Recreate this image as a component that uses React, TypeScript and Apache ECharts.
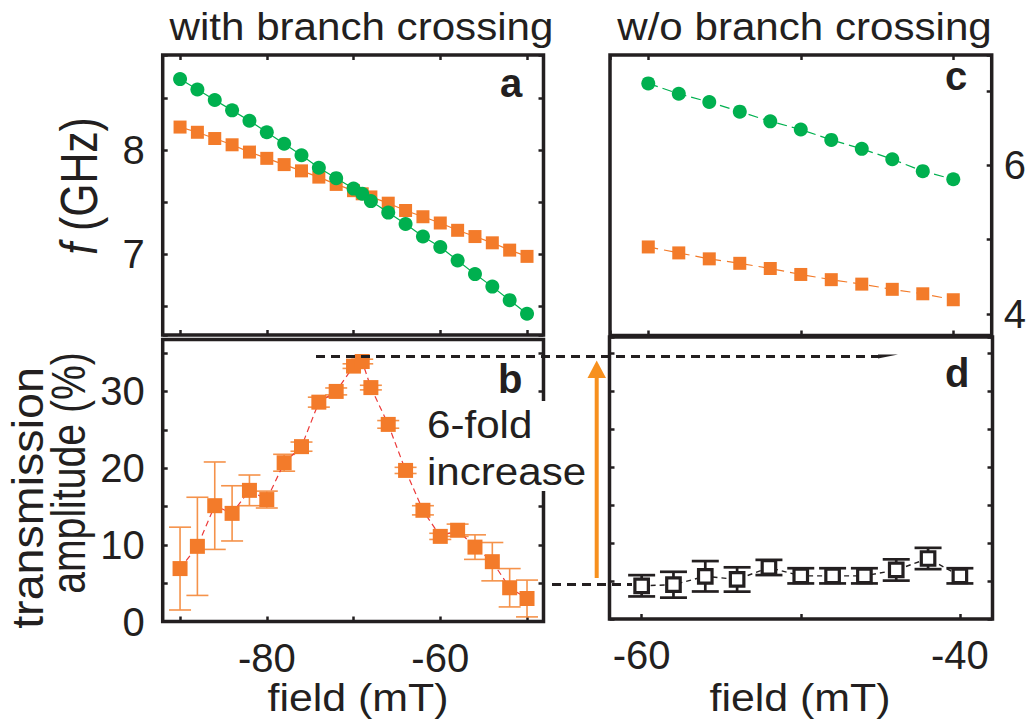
import React, { useEffect, useRef } from 'react';
import * as echarts from 'echarts';

// ---- data ----
const fieldA = [-90, -88, -86, -84, -82, -80, -78, -76, -74, -72, -70, -69, -68, -66, -64, -62, -60, -58, -56, -54, -52, -50];
const upperBranchA = [8.68, 8.58, 8.48, 8.38, 8.28, 8.17, 8.06, 7.95, 7.83, 7.73, 7.63, 7.58, 7.51, 7.40, 7.29, 7.17, 7.07, 6.94, 6.81, 6.69, 6.56, 6.43];
const lowerBranchA = [8.22, 8.17, 8.11, 8.05, 7.98, 7.92, 7.86, 7.80, 7.74, 7.67, 7.61, 7.58, 7.55, 7.49, 7.42, 7.36, 7.30, 7.23, 7.17, 7.11, 7.04, 6.98];
const transB = [6.9, 9.8, 15.1, 14.1, 17.1, 15.9, 20.7, 22.8, 28.6, 30.0, 33.3, 33.9, 30.5, 25.7, 19.7, 14.5, 11.1, 11.9, 9.7, 7.8, 4.4, 3.0];
const errB = [5.4, 6.4, 5.7, 3.6, 2.0, 1.1, 1.1, 0.6, 0.65, 0.45, 0.3, 0.3, 0.3, 0.5, 0.4, 0.6, 0.4, 0.8, 1.6, 2.5, 2.5, 2.4];

const fieldC = [-60, -58, -56, -54, -52, -50, -48, -46, -44, -42, -40];
const upperBranchC = [7.10, 6.96, 6.85, 6.72, 6.59, 6.48, 6.34, 6.22, 6.08, 5.92, 5.81];
const lowerBranchC = [4.90, 4.82, 4.74, 4.68, 4.61, 4.53, 4.46, 4.40, 4.33, 4.27, 4.19];
const transD = [4.37, 4.51, 5.62, 5.2, 6.78, 5.68, 5.68, 5.68, 6.45, 7.96, 5.68];
const errD = [1.4, 1.7, 2.0, 1.6, 1.0, 1.0, 1.0, 1.0, 1.4, 1.4, 1.0];

const FONT = '"Liberation Sans", Arial, Helvetica, sans-serif';
const INK = '#231f20';
const GREEN = '#00b04f';
const ORANGE = '#f37b2a';
const BAR_ORANGE = '#f5924a';
const RED = '#ec3a3a';

const tick = { show: true, inside: true, length: 5, lineStyle: { color: INK, width: 2.5 } };

function xAx(gridIndex: number, min: number, max: number, position: string, fmt?: (v: number) => string) {
  return {
    type: 'value', gridIndex, min, max, position,
    minInterval: 10, maxInterval: 10,
    axisLine: { show: false }, splitLine: { show: false },
    axisTick: tick,
    axisLabel: fmt
      ? { show: true, fontSize: 40, color: INK, fontFamily: FONT, margin: 16, formatter: fmt }
      : { show: false },
  };
}
function yAx(gridIndex: number, min: number, max: number, position: string, step: number, fmt?: (v: number) => string, margin = 16) {
  return {
    type: 'value', gridIndex, min, max, position,
    minInterval: step, maxInterval: step,
    axisLine: { show: false }, splitLine: { show: false },
    axisTick: tick,
    axisLabel: fmt
      ? { show: true, fontSize: 40, color: INK, fontFamily: FONT, margin, formatter: fmt }
      : { show: false },
  };
}

const isMult = (v: number, m: number) => Math.abs(v / m - Math.round(v / m)) < 1e-6;

function errorSeries(xi: number, yi: number, xs: number[], ys: number[], es: number[], color: string, lw: number, cap: number) {
  return {
    type: 'custom', xAxisIndex: xi, yAxisIndex: yi, z: 2, silent: true,
    encode: { x: 0, y: [1, 2] },
    data: xs.map((x, i) => [x, ys[i] - es[i], ys[i] + es[i]]),
    renderItem: (_p: any, api: any) => {
      const lo = api.coord([api.value(0), api.value(1)]);
      const hi = api.coord([api.value(0), api.value(2)]);
      const h = cap / 2;
      const st = { stroke: color, lineWidth: lw };
      return {
        type: 'group',
        children: [
          { type: 'line', shape: { x1: lo[0], y1: lo[1], x2: hi[0], y2: hi[1] }, style: st },
          { type: 'line', shape: { x1: lo[0] - h, y1: lo[1], x2: lo[0] + h, y2: lo[1] }, style: st },
          { type: 'line', shape: { x1: hi[0] - h, y1: hi[1], x2: hi[0] + h, y2: hi[1] }, style: st },
        ],
      };
    },
  };
}

function txt(text: string, x: number, y: number, opts: any = {}) {
  const align = opts.align || 'left';
  return {
    type: 'text', x, y, z: 110,
    rotation: opts.rotation || 0,
    scaleX: opts.scaleX || 1,
    scaleY: opts.scaleY || 1,
    style: {
      text,
      x: 0, y: 0,
      fill: INK,
      fontSize: opts.fontSize || 39,
      fontFamily: FONT,
      fontWeight: opts.bold ? 'bold' : 'normal',
      align, textAlign: align,
      verticalAlign: 'middle', textVerticalAlign: 'middle',
      rich: opts.rich,
    },
  };
}

export default function App() {
  const ref = useRef<HTMLDivElement>(null);
  useEffect(() => {
    const chart = echarts.init(ref.current!, null, { renderer: 'svg' });
    const gridStyle = { show: true, borderColor: INK, borderWidth: 3.5, backgroundColor: 'transparent' };
    const option: any = {
      animation: false,
      backgroundColor: '#fff',
      textStyle: { fontFamily: FONT },
      grid: [
        { left: 162.7, top: 55, width: 380.8, height: 280, ...gridStyle },
        { left: 162.7, top: 339.5, width: 380.8, height: 282, ...gridStyle },
        { left: 610, top: 55, width: 381.7, height: 280.5, ...gridStyle },
        { left: 609.5, top: 337, width: 383, height: 282, ...gridStyle },
      ],
      xAxis: [
        xAx(0, -92, -48.1, 'bottom'),
        xAx(0, -92, -48.1, 'top'),
        xAx(1, -92, -48.1, 'bottom', (v) => (isMult(v, 20) ? String(v) : '')),
        xAx(2, -62.51, -37.48, 'bottom'),
        xAx(2, -62.51, -37.48, 'top'),
        xAx(3, -62.02, -37.95, 'bottom', (v) => (isMult(v, 20) ? String(v) : '')),
      ],
      yAxis: [
        yAx(0, 6.226, 8.911, 'left', 0.5, (v) => (isMult(v, 1) ? String(Math.round(v)) : ''), 18),
        yAx(0, 6.226, 8.911, 'right', 0.5),
        yAx(1, 0, 36.77, 'left', 5, (v) => (isMult(v, 10) ? String(Math.round(v)) : ''), 18),
        yAx(1, 0, 36.77, 'right', 5),
        yAx(2, 3.709, 7.482, 'right', 1, (v) => (isMult(v, 2) ? String(Math.round(v)) : ''), 12),
        yAx(3, 0, 37.1, 'left', 5),
        yAx(3, 0, 37.1, 'right', 5),
      ],
      series: [
        {
          type: 'line', xAxisIndex: 0, yAxisIndex: 0, z: 3,
          data: fieldA.map((x, i) => [x, lowerBranchA[i]]),
          symbol: 'rect', symbolSize: 13, itemStyle: { color: ORANGE },
          lineStyle: { color: ORANGE, width: 1.2 },
        },
        {
          type: 'line', xAxisIndex: 0, yAxisIndex: 0, z: 4,
          data: fieldA.map((x, i) => [x, upperBranchA[i]]),
          symbol: 'circle', symbolSize: 14, itemStyle: { color: GREEN },
          lineStyle: { color: GREEN, width: 1.2 },
        },
        errorSeries(2, 2, fieldA, transB, errB, BAR_ORANGE, 1.6, 22),
        {
          type: 'line', xAxisIndex: 2, yAxisIndex: 2, z: 3,
          data: fieldA.map((x, i) => [x, transB[i]]),
          symbol: 'rect', symbolSize: 15, itemStyle: { color: ORANGE },
          lineStyle: { color: RED, width: 1.2, type: [6, 4] },
        },
        {
          type: 'line', xAxisIndex: 3, yAxisIndex: 4, z: 3,
          data: fieldC.map((x, i) => [x, upperBranchC[i]]),
          symbol: 'circle', symbolSize: 14, itemStyle: { color: GREEN },
          lineStyle: { color: GREEN, width: 1.2, type: [10, 5] },
        },
        {
          type: 'line', xAxisIndex: 3, yAxisIndex: 4, z: 3,
          data: fieldC.map((x, i) => [x, lowerBranchC[i]]),
          symbol: 'rect', symbolSize: 13, itemStyle: { color: ORANGE },
          lineStyle: { color: ORANGE, width: 1.2, type: [10, 6] },
        },
        errorSeries(5, 5, fieldC, transD, errD, INK, 2.7, 27),
        {
          type: 'line', xAxisIndex: 5, yAxisIndex: 5, z: 3,
          data: fieldC.map((x, i) => [x, transD[i]]),
          symbol: 'rect', symbolSize: 13.5,
          itemStyle: { color: '#fff', borderColor: INK, borderWidth: 3.2 },
          lineStyle: { color: INK, width: 1.4, type: [5, 4] },
        },
      ],
      graphic: [
        // white box behind annotation text
        { type: 'rect', z: 100, shape: { x: 424, y: 401, width: 166, height: 90 }, style: { fill: '#fff' } },
        txt('6-fold', 427, 424.5, { scaleX: 1.08 }),
        txt('increase', 427, 471.5, { scaleX: 1.08 }),
        // dashed guide lines
        { type: 'line', z: 105, shape: { x1: 316, y1: 356.5, x2: 882, y2: 356.5 }, style: { stroke: INK, lineWidth: 3, lineDash: [9, 6] } },
        { type: 'polygon', z: 105, shape: { points: [[878, 354.5], [898, 354.5], [878, 358.5]] }, style: { fill: INK } },
        { type: 'line', z: 105, shape: { x1: 552, y1: 584.5, x2: 632, y2: 584.5 }, style: { stroke: INK, lineWidth: 3, lineDash: [9, 6] } },
        // orange arrow
        { type: 'line', z: 106, shape: { x1: 596.7, y1: 578, x2: 596.7, y2: 376 }, style: { stroke: '#f7901e', lineWidth: 4 } },
        { type: 'polygon', z: 106, shape: { points: [[596.7, 360.5], [587.5, 378], [606, 378]] }, style: { fill: '#f7901e' } },
        // titles
        txt('with branch crossing', 361.5, 26.5, { align: 'center', scaleX: 1.08 }),
        txt('w/o branch crossing', 804.5, 26.5, { align: 'center', scaleX: 1.08 }),
        txt('field (mT)', 358, 698, { align: 'center', scaleX: 1.1 }),
        txt('field (mT)', 800, 698, { align: 'center', scaleX: 1.1 }),
        // axis names (rotated)
        txt('{i|f} (GHz)', 79, 186, {
          align: 'center', rotation: Math.PI / 2, fontSize: 45, scaleX: 0.95, scaleY: 1.16,
          rich: { i: { fontStyle: 'italic', fontSize: 45, fontFamily: FONT, fill: INK } },
        }),
        txt('transmission', 27.5, 498, { align: 'center', rotation: Math.PI / 2, fontSize: 44, scaleX: 1.06, scaleY: 1.0 }),
        txt('amplitude (%)', 68, 473, { align: 'center', rotation: Math.PI / 2, fontSize: 44, scaleX: 0.89, scaleY: 1.1 }),
        // panel letters
        txt('a', 500, 83, { bold: true, fontSize: 40 }),
        txt('b', 498, 379, { bold: true, fontSize: 40 }),
        txt('c', 945, 76, { bold: true, fontSize: 40 }),
        txt('d', 945, 373, { bold: true, fontSize: 40 }),
      ],
    };
    chart.setOption(option);
    return () => chart.dispose();
  }, []);
  return (
    <div
      ref={ref}
      style={{ position: 'absolute', left: 0, top: 0, width: 1031, height: 723, background: '#fff' }}
    />
  );
}
